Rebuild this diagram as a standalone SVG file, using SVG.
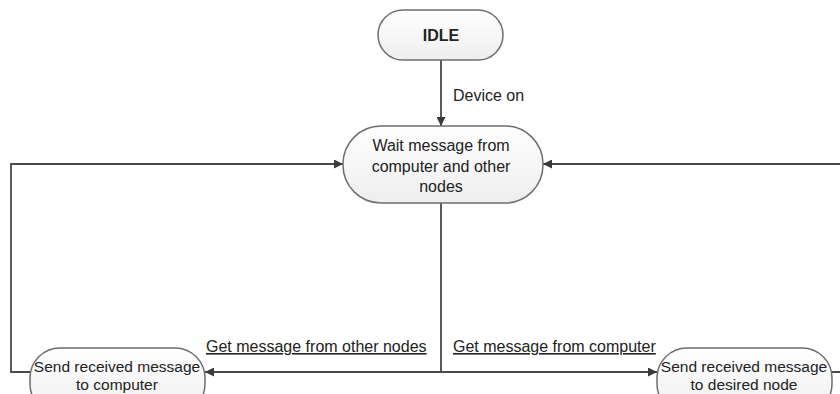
<svg xmlns="http://www.w3.org/2000/svg" width="840" height="394" viewBox="0 0 840 394">
<defs>
<marker id="ah" viewBox="0 0 10 10" refX="10" refY="5" markerWidth="11" markerHeight="9" markerUnits="userSpaceOnUse" orient="auto">
<path d="M0,0 L10,5 L0,10 z" fill="#3a3a3a"/>
</marker>
<linearGradient id="g" x1="0" y1="0" x2="0" y2="1">
<stop offset="0" stop-color="#ffffff"/>
<stop offset="1" stop-color="#eeeeee"/>
</linearGradient>
</defs>
<style>
.n{fill:url(#g);stroke:#6e6e6e;stroke-width:1.5}
.t{font-family:"Liberation Sans",Arial,sans-serif;font-size:16px;fill:#222222;text-anchor:middle}
.s{font-family:"Liberation Sans",Arial,sans-serif;font-size:15.5px;fill:#222222;text-anchor:middle}
.l{font-family:"Liberation Sans",Arial,sans-serif;font-size:16px;fill:#222222}
.c{fill:none;stroke:#4a4a4a;stroke-width:1.8}
</style>
<rect width="840" height="394" fill="#ffffff"/>
<g id="connectors">
<line class="c" x1="441" y1="60" x2="441" y2="126" marker-end="url(#ah)"/>
<polyline class="c" points="441,203 441,372 205,372" marker-end="url(#ah)"/>
<polyline class="c" points="441,372 657,372" marker-end="url(#ah)"/>
<polyline class="c" points="30,372 11,372 11,164 343,164" marker-end="url(#ah)"/>
<polyline class="c" points="830,372 850,372 850,164 543,164" marker-end="url(#ah)"/>
</g>
<g id="idle">
<rect class="n" x="378" y="10" width="125" height="50" rx="25"/>
<text class="t" x="441" y="41" font-weight="bold">IDLE</text>
</g>
<g id="wait">
<rect class="n" x="343" y="126" width="200" height="77" rx="38"/>
<text class="t" x="441" y="151">Wait message from</text>
<text class="t" x="441" y="172">computer and other</text>
<text class="t" x="441" y="192">nodes</text>
</g>
<g id="send-computer">
<rect class="n" x="30" y="348" width="175" height="66" rx="30"/>
<text class="s" x="117" y="372">Send received message</text>
<text class="s" x="117" y="390">to computer</text>
</g>
<g id="send-node">
<rect class="n" x="657" y="348" width="175" height="66" rx="30"/>
<text class="s" x="744" y="372">Send received message</text>
<text class="s" x="744" y="390">to desired node</text>
</g>
<g id="labels">
<text class="l" x="453" y="101">Device on</text>
<text class="l" x="206" y="352" text-decoration="underline">Get message from other nodes</text>
<text class="l" x="453" y="352" text-decoration="underline">Get message from computer</text>
</g>
</svg>
